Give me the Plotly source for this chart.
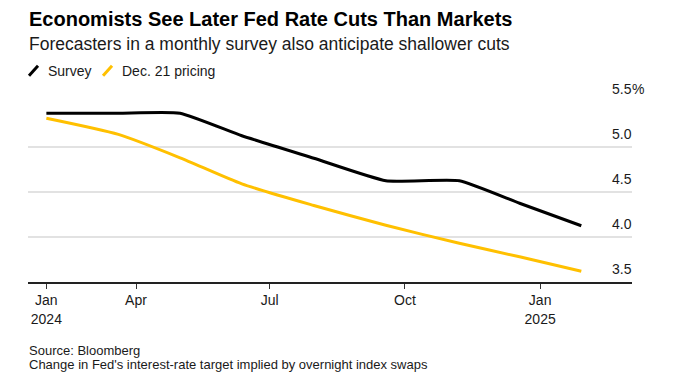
import plotly.graph_objects as go

# ---- data ----
dates = ["2024-01-31", "2024-03-20", "2024-05-01", "2024-06-12", "2024-07-31",
         "2024-09-18", "2024-11-07", "2024-12-18", "2025-01-29"]
survey = [5.375, 5.375, 5.375, 5.125, 4.875, 4.625, 4.625, 4.375, 4.125]
pricing = [5.32, 5.14, 4.88, 4.59, 4.35, 4.13, 3.93, 3.78, 3.62]
series_names = ["Survey", "Dec. 21 pricing"]

x_tickvals = ["2024-01-31", "2024-04-01", "2024-07-01", "2024-10-01", "2025-01-01"]
x_ticktext = ["Jan<br>2024", "Apr", "Jul", "Oct", "Jan<br>2025"]
y_tickvals = [3.5, 4.0, 4.5, 5.0, 5.5]
y_ticktext = ["3.5", "4.0", "4.5", "5.0", "5.5"]

title = "Economists See Later Fed Rate Cuts Than Markets"
subtitle = "Forecasters in a monthly survey also anticipate shallower cuts"
footer = ["Source: Bloomberg",
          "Change in Fed's interest-rate target implied by overnight index swaps"]

# ---- layout geometry (pixels) ----
FW, FH = 690, 384
L, R, T, B = 28, 631.7, 101.7, 281.7
W, H = R - L, B - T
FONT = "Liberation Sans, Arial, sans-serif"
BLACK = "#000000"
YELLOW = "#FFC000"


def px_x(x):
    return (x - L) / W


def px_y(y):
    return (B - y) / H


fig = go.Figure()
fig.add_trace(go.Scatter(x=dates, y=survey, mode="lines", name=series_names[0],
                         line=dict(color=BLACK, width=3, shape="spline", smoothing=0.45),
                         showlegend=False))
fig.add_trace(go.Scatter(x=dates, y=pricing, mode="lines", name=series_names[1],
                         line=dict(color=YELLOW, width=3, shape="spline", smoothing=0.6),
                         showlegend=False))

annotations = []
shapes = []

# title / subtitle
annotations.append(dict(text="<b>" + title + "</b>", xref="paper", yref="paper",
                        x=px_x(27), y=px_y(19), xanchor="left", yanchor="middle",
                        showarrow=False, font=dict(family=FONT, size=20, color="#000")))
annotations.append(dict(text=subtitle, xref="paper", yref="paper",
                        x=px_x(27), y=px_y(44), xanchor="left", yanchor="middle",
                        showarrow=False, font=dict(family=FONT, size=17.5, color="#1a1a1a")))

# custom legend with slanted strokes
leg = [(29, 47, BLACK), (103, 121, YELLOW)]
for (sx, tx, col), name in zip(leg, series_names):
    shapes.append(dict(type="line", xref="paper", yref="paper",
                       x0=px_x(sx), y0=px_y(75.5), x1=px_x(sx + 9), y1=px_y(65.5),
                       line=dict(color=col, width=3)))
    annotations.append(dict(text=name, xref="paper", yref="paper",
                            x=px_x(tx - 1), y=px_y(70.5), xanchor="left", yanchor="middle",
                            showarrow=False, font=dict(family=FONT, size=14, color="#1a1a1a")))

# y tick labels (above gridlines, right aligned)
for v, t in zip(y_tickvals, y_ticktext):
    annotations.append(dict(text=t, xref="paper", yref="y", x=1, y=v,
                            xanchor="right", yanchor="middle", xshift=2, yshift=13,
                            showarrow=False, font=dict(family=FONT, size=14, color="#1a1a1a")))
annotations.append(dict(text="%", xref="paper", yref="y", x=1, y=y_tickvals[-1],
                        xanchor="left", yanchor="middle", xshift=-2, yshift=13,
                        showarrow=False, font=dict(family=FONT, size=14, color="#1a1a1a")))

# footer
for i, (line, yc) in enumerate(zip(footer, [350, 364.3])):
    annotations.append(dict(text=line, xref="paper", yref="paper",
                            x=px_x(27), y=px_y(yc), xanchor="left", yanchor="middle",
                            showarrow=False, font=dict(family=FONT, size=13, color="#1a1a1a")))

fig.update_layout(
    width=FW, height=FH,
    margin=dict(l=L, r=FW - R, t=T, b=FH - B, pad=0),
    paper_bgcolor="white", plot_bgcolor="white",
    font=dict(family=FONT, size=14, color="#1a1a1a"),
    showlegend=False,
    annotations=annotations,
    shapes=shapes,
    xaxis=dict(type="date", range=["2024-01-18 12:00", "2025-03-04 12:00"],
               tickvals=x_tickvals, ticktext=x_ticktext,
               showgrid=False, zeroline=False,
               showline=True, linecolor="#222", linewidth=1.5,
               ticks="outside", ticklen=5, tickwidth=1, tickcolor="#333",
               tickfont=dict(family=FONT, size=14, color="#1a1a1a"),
               fixedrange=True),
    yaxis=dict(range=[3.5, 5.5], tickvals=y_tickvals, showticklabels=False,
               showgrid=True, gridcolor="#e2e2e2", gridwidth=1.5,
               zeroline=False, showline=False, ticks="", fixedrange=True),
)

fig.write_html("out.html",
               config={"displayModeBar": False, "staticPlot": True},
               post_script="document.body.style.margin='0';document.body.style.overflow='hidden';")
